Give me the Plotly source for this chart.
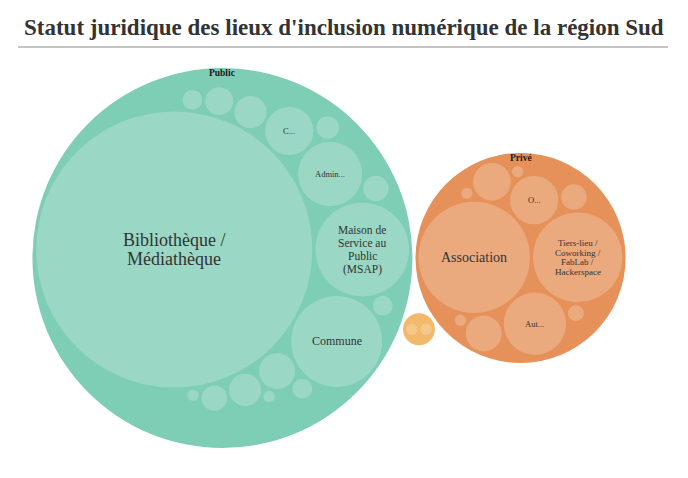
import math
import plotly.graph_objects as go

# ---------------- data ----------------
title_text = "Statut juridique des lieux d'inclusion numérique de la région Sud"

group_names = ["Public", "Privé", "Autre"]

public_labels = ["Bibliothèque / Médiathèque", "Maison de Service au Public (MSAP)", "Commune",
                 "Admin...", "C...", "", "", "", "", "", "", "", "", "", "", "", ""]
public_values = [590, 68, 64, 32, 18, 10, 8, 8, 6, 5, 5, 4, 3, 3, 3, 1, 1]

prive_labels = ["Association", "Tiers-lieu / Coworking / FabLab / Hackerspace", "Aut...", "O...",
                "", "", "", "", "", "", ""]
prive_values = [96, 62, 30, 18, 11, 10, 5, 2, 1, 1, 1]

autre_labels = ["", ""]
autre_values = [1, 1]

# ---------------- styles ----------------
group_colors = {"Public": "#7ecdb5", "Privé": "#e6915a", "Autre": "#f2b96a"}
leaf_fill = "rgba(255,255,255,0.22)"
label_font = "Liberation Serif"
label_style = {
    "Bibliothèque / Médiathèque": (["Bibliothèque /", "Médiathèque"], 18, 18.2),
    "Maison de Service au Public (MSAP)": (["Maison de", "Service au", "Public", "(MSAP)"], 11.5, 13.2),
    "Commune": (["Commune"], 12, 12),
    "Admin...": (["Admin..."], 8.5, 10),
    "C...": (["C..."], 8.5, 10),
    "Association": (["Association"], 14, 14),
    "Tiers-lieu / Coworking / FabLab / Hackerspace": (["Tiers-lieu /", "Coworking /", "FabLab /", "Hackerspace"], 9, 9.6),
    "Aut...": (["Aut..."], 8.5, 10),
    "O...": (["O..."], 8.5, 10),
}


# ---------------- d3-style circle packing ----------------
class Circ:
    def __init__(self, r, name="", children=None, value=0):
        self.x = 0.0
        self.y = 0.0
        self.r = r
        self.name = name
        self.children = children
        self.value = value


class FNode:
    def __init__(self, c):
        self.c = c
        self.next = None
        self.prev = None


def place(b, a, c):
    dx = b.x - a.x
    dy = b.y - a.y
    d2 = dx * dx + dy * dy
    if d2:
        a2 = (a.r + c.r) ** 2
        b2 = (b.r + c.r) ** 2
        if a2 > b2:
            x = (d2 + b2 - a2) / (2 * d2)
            y = math.sqrt(max(0.0, b2 / d2 - x * x))
            c.x = b.x - x * dx - y * dy
            c.y = b.y - x * dy + y * dx
        else:
            x = (d2 + a2 - b2) / (2 * d2)
            y = math.sqrt(max(0.0, a2 / d2 - x * x))
            c.x = a.x + x * dx - y * dy
            c.y = a.y + x * dy + y * dx
    else:
        c.x = a.x + c.r
        c.y = a.y


def intersects(a, b):
    dr = a.r + b.r - 1e-6
    dx = b.x - a.x
    dy = b.y - a.y
    return dr > 0 and dr * dr > dx * dx + dy * dy


def score(node):
    a = node.c
    b = node.next.c
    ab = a.r + b.r
    dx = (a.x * b.r + b.x * a.r) / ab
    dy = (a.y * b.r + b.y * a.r) / ab
    return dx * dx + dy * dy


def encloses_not(a, b):
    dr = a.r - b.r
    dx = b.x - a.x
    dy = b.y - a.y
    return dr < 0 or dr * dr < dx * dx + dy * dy


def encloses_weak(a, b):
    dr = a.r - b.r + max(a.r, b.r, 1) * 1e-9
    dx = b.x - a.x
    dy = b.y - a.y
    return dr > 0 and dr * dr > dx * dx + dy * dy


def encloses_weak_all(a, B):
    return all(encloses_weak(a, b) for b in B)


def basis2(a, b):
    x21 = b.x - a.x
    y21 = b.y - a.y
    r21 = b.r - a.r
    l = math.sqrt(x21 * x21 + y21 * y21)
    c = Circ((l + a.r + b.r) / 2)
    c.x = (a.x + b.x + x21 / l * r21) / 2
    c.y = (a.y + b.y + y21 / l * r21) / 2
    return c


def basis3(a, b, c):
    x1, y1, r1 = a.x, a.y, a.r
    x2, y2, r2 = b.x, b.y, b.r
    x3, y3, r3 = c.x, c.y, c.r
    a2 = x1 - x2
    a3 = x1 - x3
    b2 = y1 - y2
    b3 = y1 - y3
    c2 = r2 - r1
    c3 = r3 - r1
    d1 = x1 * x1 + y1 * y1 - r1 * r1
    d2 = d1 - x2 * x2 - y2 * y2 + r2 * r2
    d3 = d1 - x3 * x3 - y3 * y3 + r3 * r3
    ab = a3 * b2 - a2 * b3
    xa = (b2 * d3 - b3 * d2) / (ab * 2) - x1
    xb = (b3 * c2 - b2 * c3) / ab
    ya = (a3 * d2 - a2 * d3) / (ab * 2) - y1
    yb = (a2 * c3 - a3 * c2) / ab
    A = xb * xb + yb * yb - 1
    Bq = 2 * (r1 + xa * xb + ya * yb)
    Cq = xa * xa + ya * ya - r1 * r1
    r = -((Bq + math.sqrt(Bq * Bq - 4 * A * Cq)) / (2 * A) if abs(A) > 1e-6 else Cq / Bq)
    e = Circ(r)
    e.x = x1 + xa + r * xb
    e.y = y1 + ya + r * yb
    return e


def basis(B):
    if len(B) == 1:
        e = Circ(B[0].r)
        e.x, e.y = B[0].x, B[0].y
        return e
    if len(B) == 2:
        return basis2(B[0], B[1])
    return basis3(B[0], B[1], B[2])


def extend_basis(B, p):
    if encloses_weak_all(p, B):
        return [p]
    for i in range(len(B)):
        if encloses_not(p, B[i]) and encloses_weak_all(basis2(B[i], p), B):
            return [B[i], p]
    for i in range(len(B) - 1):
        for j in range(i + 1, len(B)):
            if (encloses_not(basis2(B[i], B[j]), p) and encloses_not(basis2(B[i], p), B[j])
                    and encloses_not(basis2(B[j], p), B[i])
                    and encloses_weak_all(basis3(B[i], B[j], p), B)):
                return [B[i], B[j], p]
    raise RuntimeError("enclose failed")


def enclose(circles):
    i, n = 0, len(circles)
    B = []
    e = None
    while i < n:
        p = circles[i]
        if e is not None and encloses_weak(e, p):
            i += 1
        else:
            B = extend_basis(B, p)
            e = basis(B)
            i = 0
    return e


def pack_siblings(circles):
    n = len(circles)
    if n == 0:
        return 0
    a = circles[0]
    a.x, a.y = 0.0, 0.0
    if n == 1:
        return a.r
    b = circles[1]
    a.x = -b.r
    b.x = a.r
    b.y = 0.0
    if n == 2:
        return a.r + b.r
    c = circles[2]
    place(b, a, c)
    a, b, c = FNode(a), FNode(b), FNode(c)
    a.next = c.prev = b
    b.next = a.prev = c
    c.next = b.prev = a
    i = 3
    while i < n:
        cc = circles[i]
        place(a.c, b.c, cc)
        c = FNode(cc)
        j, k, sj, sk = b.next, a.prev, b.c.r, a.c.r
        restart = False
        while True:
            if sj <= sk:
                if intersects(j.c, c.c):
                    b = j
                    a.next = b
                    b.prev = a
                    restart = True
                    break
                sj += j.c.r
                j = j.next
            else:
                if intersects(k.c, c.c):
                    a = k
                    a.next = b
                    b.prev = a
                    restart = True
                    break
                sk += k.c.r
                k = k.prev
            if j is k.next:
                break
        if restart:
            continue
        c.prev = a
        c.next = b
        a.next = c
        b.prev = c
        b = c
        aa = score(a)
        c = c.next
        while c is not b:
            ca = score(c)
            if ca < aa:
                a, aa = c, ca
            c = c.next
        b = a.next
        i += 1
    chain = [b.c]
    c = b.next
    while c is not b:
        chain.append(c.c)
        c = c.next
    e = enclose(chain)
    for ci in circles:
        ci.x -= e.x
        ci.y -= e.y
    return e.r


def build_tree():
    groups = []
    for gname, labels, values in [("Public", public_labels, public_values),
                                  ("Privé", prive_labels, prive_values),
                                  ("Autre", autre_labels, autre_values)]:
        leaves = [Circ(math.sqrt(v), lab, None, v) for lab, v in zip(labels, values)]
        leaves.sort(key=lambda c: -c.value)
        groups.append(Circ(0, gname, leaves, sum(values)))
    groups.sort(key=lambda c: -c.value)
    return Circ(0, "root", groups, sum(g.value for g in groups))


def pack_node(node, pad):
    if node.children:
        for ch in node.children:
            pack_node(ch, pad)
        for ch in node.children:
            ch.r += pad
        e = pack_siblings(node.children)
        for ch in node.children:
            ch.r -= pad
        node.r = e + pad


def translate(node):
    if node.children:
        for ch in node.children:
            ch.x += node.x
            ch.y += node.y
            translate(ch)


# page offset (default body margin of the html page)
OFF = 8
# target box in pixels for top-level circles
BOX_L, BOX_R, BOX_T, BOX_B = 31 - OFF, 627 - OFF, 68 - OFF, 448 - OFF
PAD_PX = 1.6

root = build_tree()
pack_node(root, 0)
translate(root)
w0 = max(g.x + g.r for g in root.children) - min(g.x - g.r for g in root.children)
s0 = (BOX_R - BOX_L) / w0

root = build_tree()
pack_node(root, PAD_PX / s0)
root.x = root.y = 0.0
translate(root)

xmin = min(g.x - g.r for g in root.children)
xmax = max(g.x + g.r for g in root.children)
ymin = min(g.y - g.r for g in root.children)
ymax = max(g.y + g.r for g in root.children)
s = min((BOX_R - BOX_L) / (xmax - xmin), (BOX_B - BOX_T) / (ymax - ymin))
xc, yc = (xmin + xmax) / 2, (ymin + ymax) / 2
pxc, pyc = (BOX_L + BOX_R) / 2, (BOX_T + BOX_B) / 2

W, H = 688, 478
x_range = [xc - pxc / s, xc + (W - pxc) / s]
y_range = [yc + (H - pyc) / s, yc - pyc / s]

shapes = []
annotations = []
for g in root.children:
    shapes.append(dict(type="circle", xref="x", yref="y", x0=g.x - g.r, x1=g.x + g.r,
                       y0=g.y - g.r, y1=g.y + g.r, fillcolor=group_colors[g.name],
                       line=dict(width=0), layer="below"))
    for lf in g.children:
        shapes.append(dict(type="circle", xref="x", yref="y", x0=lf.x - lf.r, x1=lf.x + lf.r,
                           y0=lf.y - lf.r, y1=lf.y + lf.r, fillcolor=leaf_fill,
                           line=dict(width=0), layer="below"))
        if lf.name in label_style:
            lines, fs, lh = label_style[lf.name]
            nlines = len(lines)
            for li, txt in enumerate(lines):
                annotations.append(dict(x=lf.x, y=lf.y, xref="x", yref="y", text=txt,
                                        showarrow=False, xanchor="center", yanchor="middle",
                                        yshift=-(li - (nlines - 1) / 2) * lh, borderpad=0,
                                        font=dict(family=label_font, size=fs, color="#333333")))
    if g.r * s > 50:
        annotations.append(dict(x=g.x, y=g.y - g.r, xref="x", yref="y", text="<b>" + g.name + "</b>",
                                showarrow=False, xanchor="center", yanchor="top", yshift=1, borderpad=0,
                                font=dict(family=label_font, size=9.5, color="#1a1a1a")))

# title and rule
annotations.append(dict(x=(344 - OFF) / W, y=1 - (27 - OFF) / H, xref="paper", yref="paper",
                        text="<b>" + title_text + "</b>",
                        showarrow=False, xanchor="center", yanchor="middle",
                        font=dict(family="Liberation Serif", size=23, color="#333333")))
shapes.append(dict(type="line", xref="paper", yref="paper", x0=(18 - OFF) / W, x1=(668 - OFF) / W,
                   y0=1 - (47 - OFF) / H, y1=1 - (47 - OFF) / H, line=dict(color="#b0b0b0", width=1.5)))

fig = go.Figure()
fig.add_trace(go.Scatter(x=[xc], y=[yc], mode="markers", marker=dict(opacity=0), hoverinfo="skip",
                         showlegend=False))
fig.update_layout(
    width=W, height=H, autosize=False,
    margin=dict(l=0, r=0, t=0, b=0),
    paper_bgcolor="white", plot_bgcolor="white",
    xaxis=dict(range=x_range, visible=False, showgrid=False, zeroline=False, fixedrange=True),
    yaxis=dict(range=y_range, visible=False, showgrid=False, zeroline=False, fixedrange=True),
    shapes=shapes, annotations=annotations, showlegend=False,
)
fig.write_html("out.html")
